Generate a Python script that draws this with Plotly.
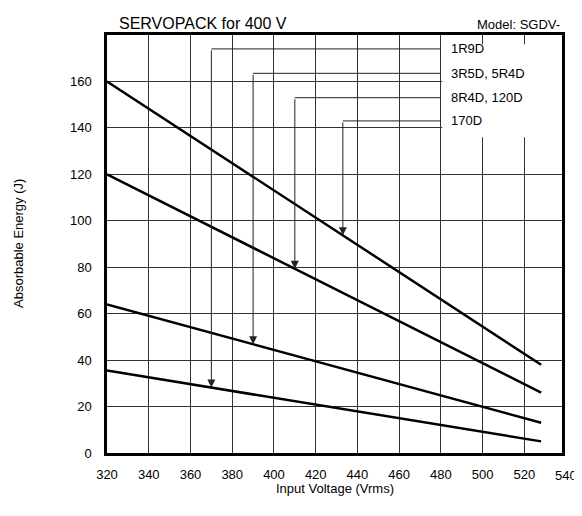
import numpy as np
import plotly.graph_objects as go

# ---- data ----
voltage = [320, 528]
series_names = ["1R9D", "3R5D, 5R4D", "8R4D, 120D", "170D"]
energy_1R9D = [35.5, 5]
energy_3R5D = [64, 13]
energy_8R4D = [120, 26]
energy_170D = [160, 38]
series_values = [energy_1R9D, energy_3R5D, energy_8R4D, energy_170D]

# leader lines: voltage where each arrow points, label height (J)
arrow_voltage = [370, 390, 410, 433]
label_energy = [174, 163.5, 153, 143]
label_voltage = 484
leader_end_voltage = 480

x_ticks = [320, 340, 360, 380, 400, 420, 440, 460, 480, 500, 520]
extra_x_tick = 540
y_ticks = [0, 20, 40, 60, 80, 100, 120, 140, 160]
x_range = [320, 538]
y_range = [0, 180]

FONT = "Arial, Liberation Sans, Helvetica, sans-serif"

fig = go.Figure()

for name, vals in zip(series_names, series_values):
    fig.add_trace(go.Scatter(
        x=voltage, y=vals, mode="lines", name=name,
        line=dict(color="black", width=2.5), showlegend=False,
        hoverinfo="skip"))

shapes = []
# white mask behind labels (hides grid)
shapes.append(dict(type="rect", xref="x", yref="y", layer="between",
                   x0=leader_end_voltage + 0.6, x1=x_range[1], y0=136, y1=176,
                   fillcolor="white", line=dict(width=0)))

annotations = []
for name, vals, xv, ly in zip(series_names, series_values, arrow_voltage, label_energy):
    tip = float(np.interp(xv, voltage, vals))
    shapes.append(dict(type="line", xref="x", yref="y", layer="above",
                       x0=xv, x1=leader_end_voltage, y0=ly, y1=ly,
                       line=dict(color="#222", width=1)))
    annotations.append(dict(x=xv, y=tip, xref="x", yref="y",
                            ax=xv, ay=ly, axref="x", ayref="y",
                            text="", showarrow=True, arrowhead=2,
                            arrowsize=1.6, arrowwidth=1, arrowcolor="#222"))
    annotations.append(dict(x=label_voltage, y=ly, xref="x", yref="y",
                            text=name, showarrow=False, xanchor="left",
                            yanchor="middle",
                            font=dict(family=FONT, size=13, color="black")))

annotations.append(dict(x=0, y=1, xref="paper", yref="paper", yshift=1, xshift=10,
                        text="SERVOPACK for 400 V", showarrow=False,
                        xanchor="left", yanchor="bottom",
                        font=dict(family=FONT, size=16, color="black")))
annotations.append(dict(x=1, y=1, xref="paper", yref="paper", yshift=1,
                        text="Model: SGDV-", showarrow=False,
                        xanchor="right", yanchor="bottom",
                        font=dict(family=FONT, size=13, color="black")))
annotations.append(dict(x=(extra_x_tick - x_range[0]) / (x_range[1] - x_range[0]),
                        y=0, xref="paper", yref="paper", yshift=-13,
                        text=str(extra_x_tick), showarrow=False,
                        xanchor="center", yanchor="top",
                        font=dict(family=FONT, size=13, color="black")))
annotations.append(dict(x=-89 / 455, y=0.5, xref="paper", yref="paper",
                        text="Absorbable Energy (J)", showarrow=False,
                        textangle=-90, xanchor="center", yanchor="middle",
                        font=dict(family=FONT, size=13, color="black")))
annotations.append(dict(x=0.5, y=0, xref="paper", yref="paper", yshift=-26,
                        text="Input Voltage (Vrms)", showarrow=False,
                        xanchor="center", yanchor="top",
                        font=dict(family=FONT, size=13, color="black")))

fig.update_layout(
    width=582, height=516,
    margin=dict(l=99, r=28, t=27, b=71),
    paper_bgcolor="white", plot_bgcolor="white",
    font=dict(family=FONT, size=13, color="black"),
    shapes=shapes, annotations=annotations,
    xaxis=dict(range=x_range, tickvals=x_ticks, ticktext=[str(v) for v in x_ticks],
               showgrid=True, gridcolor="#333", gridwidth=1,
               showline=True, linecolor="black", linewidth=2.5, mirror=True,
               ticks="", ticklabelstandoff=8, zeroline=False,
               tickfont=dict(family=FONT, size=13, color="black")),
    yaxis=dict(range=y_range, tickvals=y_ticks,
               showgrid=True, gridcolor="#333", gridwidth=1,
               showline=True, linecolor="black", linewidth=2.5, mirror=True,
               ticks="", ticklabelstandoff=10, zeroline=False,
               tickfont=dict(family=FONT, size=13, color="black")),
)

fig.write_html("out.html")
